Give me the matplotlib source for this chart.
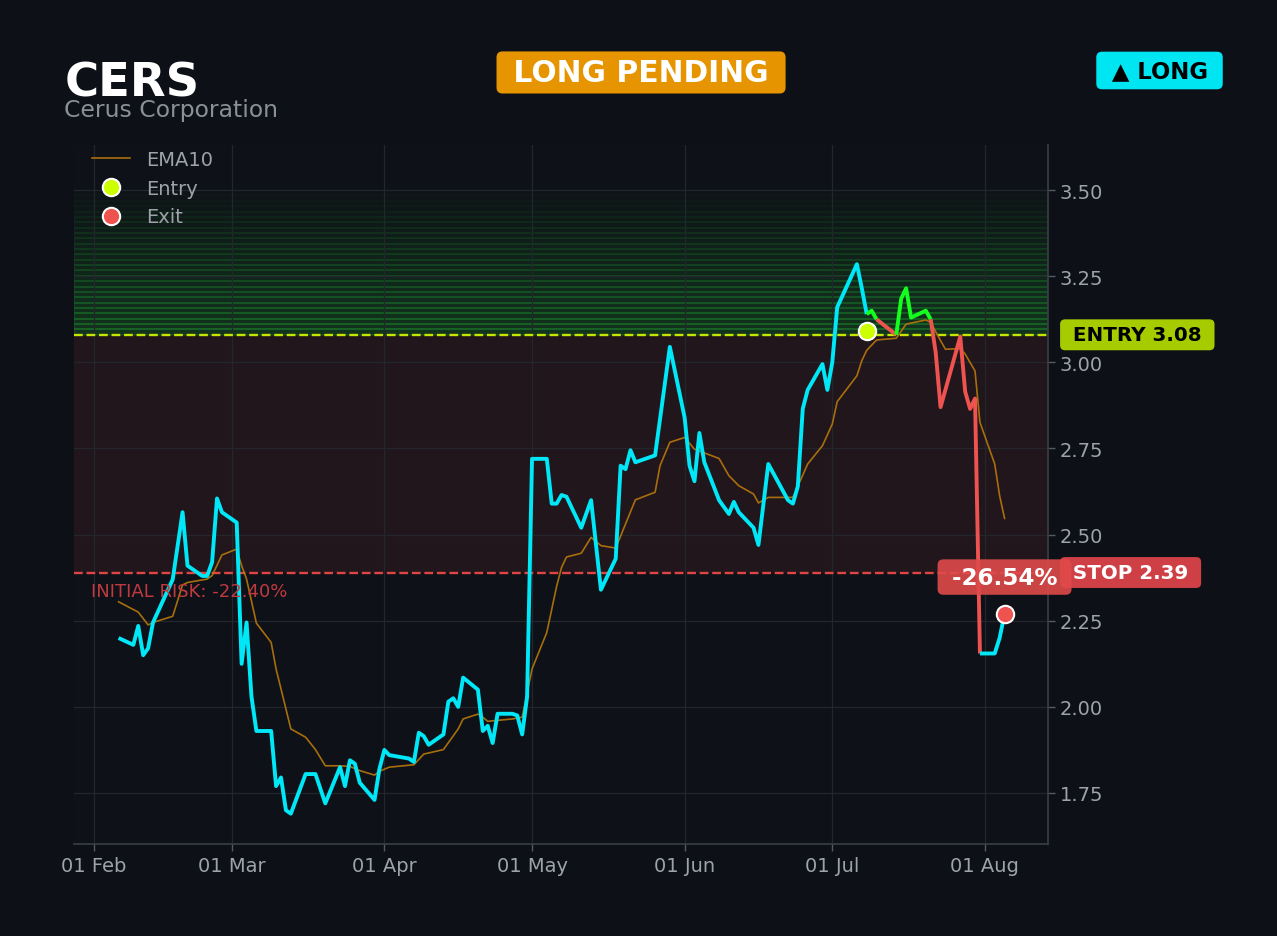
import matplotlib
matplotlib.use('Agg')
import matplotlib.pyplot as plt
import matplotlib.dates as mdates
import matplotlib.transforms as mtransforms
import numpy as np
import pandas as pd

# header / trade info
ticker = 'CERS'
company = 'Cerus Corporation'
status = 'LONG PENDING'
side = '\u25B2 LONG'

entry_price = 3.08
stop_price = 2.39
target_top = 3.50
initial_risk = '-22.40%'
trade_return = '-26.54%'

entry_date = '2026-07-08'
entry_fill = 3.09
exit_date = '2026-08-05'
exit_fill = 2.27

# close prices
price_dates = [
    '2026-02-06', '2026-02-09', '2026-02-10', '2026-02-11', '2026-02-12', '2026-02-13',
    '2026-02-17', '2026-02-19', '2026-02-20', '2026-02-23', '2026-02-24', '2026-02-25',
    '2026-02-26', '2026-02-27', '2026-03-02', '2026-03-03', '2026-03-04', '2026-03-05',
    '2026-03-06', '2026-03-09', '2026-03-10', '2026-03-11', '2026-03-12', '2026-03-13',
    '2026-03-16', '2026-03-18', '2026-03-20', '2026-03-23', '2026-03-24', '2026-03-25',
    '2026-03-26', '2026-03-27', '2026-03-30', '2026-03-31', '2026-04-01', '2026-04-02',
    '2026-04-06', '2026-04-07', '2026-04-08', '2026-04-09', '2026-04-10', '2026-04-13',
    '2026-04-14', '2026-04-15', '2026-04-16', '2026-04-17', '2026-04-20', '2026-04-21',
    '2026-04-22', '2026-04-23', '2026-04-24', '2026-04-27', '2026-04-28', '2026-04-29',
    '2026-04-30', '2026-05-01', '2026-05-04', '2026-05-05', '2026-05-06', '2026-05-07',
    '2026-05-08', '2026-05-11', '2026-05-13', '2026-05-15', '2026-05-18', '2026-05-19',
    '2026-05-20', '2026-05-21', '2026-05-22', '2026-05-26', '2026-05-29', '2026-06-01',
    '2026-06-02', '2026-06-03', '2026-06-04', '2026-06-05', '2026-06-08', '2026-06-10',
    '2026-06-11', '2026-06-12', '2026-06-15', '2026-06-16', '2026-06-18', '2026-06-22',
    '2026-06-23', '2026-06-24', '2026-06-25', '2026-06-26', '2026-06-29', '2026-06-30',
    '2026-07-01', '2026-07-02', '2026-07-06', '2026-07-07', '2026-07-08', '2026-07-09',
    '2026-07-10', '2026-07-14', '2026-07-15', '2026-07-16', '2026-07-17', '2026-07-20',
    '2026-07-21', '2026-07-22', '2026-07-23', '2026-07-27', '2026-07-28', '2026-07-29',
    '2026-07-30', '2026-07-31', '2026-08-03', '2026-08-04', '2026-08-05',
]
price_close = [
    2.20, 2.18, 2.235, 2.15, 2.17, 2.245,
    2.37, 2.565, 2.41, 2.38, 2.38, 2.42,
    2.605, 2.565, 2.535, 2.125, 2.245, 2.03,
    1.93, 1.93, 1.77, 1.795, 1.70, 1.69,
    1.805, 1.805, 1.72, 1.825, 1.77, 1.845,
    1.835, 1.78, 1.73, 1.82, 1.875, 1.86,
    1.85, 1.84, 1.925, 1.915, 1.89, 1.92,
    2.015, 2.025, 2.00, 2.085, 2.05, 1.93,
    1.945, 1.895, 1.98, 1.98, 1.975, 1.92,
    2.03, 2.72, 2.72, 2.59, 2.59, 2.615,
    2.61, 2.52, 2.60, 2.34, 2.43, 2.70,
    2.69, 2.745, 2.71, 2.73, 3.045, 2.84,
    2.70, 2.655, 2.795, 2.71, 2.60, 2.56,
    2.595, 2.565, 2.52, 2.47, 2.705, 2.60,
    2.59, 2.64, 2.865, 2.92, 2.995, 2.92,
    3.00, 3.16, 3.285, 3.215, 3.14, 3.15,
    3.125, 3.08, 3.185, 3.215, 3.13, 3.15,
    3.125, 3.03, 2.87, 3.075, 2.915, 2.865,
    2.895, 2.155, 2.155, 2.20, 2.27,
]

ema_dates = [
    '2026-02-06', '2026-02-10', '2026-02-12', '2026-02-13', '2026-02-17', '2026-02-19',
    '2026-02-20', '2026-02-24', '2026-02-25', '2026-02-27', '2026-03-02', '2026-03-03',
    '2026-03-04', '2026-03-06', '2026-03-09', '2026-03-10', '2026-03-13', '2026-03-16',
    '2026-03-18', '2026-03-20', '2026-03-23', '2026-03-25', '2026-03-27', '2026-03-30',
    '2026-03-31', '2026-04-02', '2026-04-07', '2026-04-09', '2026-04-13', '2026-04-16',
    '2026-04-17', '2026-04-20', '2026-04-21', '2026-04-22', '2026-04-27', '2026-04-29',
    '2026-05-01', '2026-05-04', '2026-05-06', '2026-05-07', '2026-05-08', '2026-05-11',
    '2026-05-13', '2026-05-15', '2026-05-18', '2026-05-22', '2026-05-26', '2026-05-27',
    '2026-05-29', '2026-06-01', '2026-06-03', '2026-06-08', '2026-06-10', '2026-06-12',
    '2026-06-15', '2026-06-16', '2026-06-18', '2026-06-23', '2026-06-26', '2026-06-29',
    '2026-07-01', '2026-07-02', '2026-07-06', '2026-07-07', '2026-07-08', '2026-07-10',
    '2026-07-14', '2026-07-16', '2026-07-20', '2026-07-21', '2026-07-23', '2026-07-24',
    '2026-07-27', '2026-07-28', '2026-07-30', '2026-07-31', '2026-08-03', '2026-08-04',
    '2026-08-05',
]
ema_values = [
    2.305, 2.275, 2.238, 2.245, 2.263, 2.354,
    2.361, 2.371, 2.381, 2.441, 2.458, 2.41,
    2.371, 2.243, 2.187, 2.11, 1.936, 1.912,
    1.876, 1.829, 1.829, 1.827, 1.815, 1.802,
    1.813, 1.825, 1.832, 1.863, 1.876, 1.936,
    1.965, 1.979, 1.970, 1.958, 1.965, 1.970,
    2.11, 2.216, 2.35, 2.405, 2.435, 2.446,
    2.492, 2.468, 2.461, 2.601, 2.623, 2.70,
    2.768, 2.782, 2.748, 2.721, 2.671, 2.642,
    2.618, 2.592, 2.608, 2.608, 2.705, 2.758,
    2.821, 2.886, 2.961, 3.005, 3.035, 3.065,
    3.07, 3.111, 3.123, 3.116, 3.063, 3.038,
    3.04, 3.024, 2.975, 2.826, 2.705, 2.613,
    2.547,
]

# colour of the close line, piece by piece
phases = [
    ('2026-02-06', '2026-07-08', 'watch'),
    ('2026-07-08', '2026-07-10', 'up'),
    ('2026-07-10', '2026-07-14', 'down'),
    ('2026-07-14', '2026-07-21', 'up'),
    ('2026-07-21', '2026-07-31', 'down'),
    ('2026-07-31', '2026-08-05', 'watch'),
]
phase_colors = {'watch': '#00e8f8', 'up': '#14ff1e', 'down': '#ef5350'}

bg = '#0d1117'
grid_c = '#23262c'
txt_c = '#9ea2a9'
ema_c = '#b8780c'


def main():
    fig = plt.figure(figsize=(12.77, 9.37), dpi=100, facecolor=bg)
    ax = fig.add_axes([0.058, 0.0982, 0.7627, 0.746])
    ax.set_facecolor('#0e1117')

    # zones: red risk band and green gradient above the entry
    ax.axhspan(stop_price, entry_price, color='#e5534b', alpha=0.088, lw=0, zorder=0.8)
    n_bands = 27
    edges = np.linspace(entry_price, target_top, n_bands + 1)
    for i in range(n_bands):
        a = 0.17 * (1 - i / n_bands) + 0.004
        ax.axhspan(edges[i], edges[i + 1], color='#26d83c', alpha=a, lw=1.3, zorder=0.8)

    ax.axhline(entry_price, color='#c6e600', lw=1.7, ls='--', zorder=3)
    ax.axhline(stop_price, color='#e04545', lw=1.7, ls='--', zorder=3)

    s = pd.Series(price_close, index=pd.to_datetime(price_dates))
    for start, end, phase in phases:
        seg = s[start:end]
        ax.plot(seg.index, seg.values, color=phase_colors[phase], lw=2.8, zorder=4,
                solid_capstyle='butt')

    ax.plot(pd.to_datetime(ema_dates), ema_values, color=ema_c, lw=1.2, alpha=0.9,
            zorder=3.5, label='EMA10')

    ax.plot([pd.Timestamp(entry_date)], [entry_fill], ls='none', marker='o', ms=12.5,
            mfc='#ccff00', mec='white', mew=1.5, zorder=6, label='Entry')
    ax.plot([pd.Timestamp(exit_date)], [exit_fill], ls='none', marker='o', ms=12.5,
            mfc='#ef5350', mec='white', mew=1.5, zorder=6, label='Exit')

    # axes look
    ax.set_xlim(pd.Timestamp('2026-01-28') - pd.Timedelta(hours=1), pd.Timestamp('2026-08-13 20:00'))
    ax.set_ylim(1.602, 3.631)
    ax.yaxis.tick_right()
    ax.set_yticks([1.75, 2.00, 2.25, 2.50, 2.75, 3.00, 3.25, 3.50])
    ax.yaxis.set_major_formatter(plt.FuncFormatter(lambda v, p: f'{v:.2f}'))
    ax.xaxis.set_major_locator(mdates.MonthLocator())
    ax.xaxis.set_major_formatter(mdates.DateFormatter('%d %b'))
    ax.tick_params(colors='#555a62', labelcolor=txt_c, labelsize=14, length=5, width=1)
    ax.grid(True, color=grid_c, lw=0.9)
    for side_name in ['top', 'left']:
        ax.spines[side_name].set_visible(False)
    for side_name in ['bottom', 'right']:
        ax.spines[side_name].set_color('#3a3e46')
        ax.spines[side_name].set_linewidth(1.2)

    leg = ax.legend(loc='upper left', bbox_to_anchor=(0, 1.018), frameon=False, fontsize=14)
    for t in leg.get_texts():
        t.set_color(txt_c)

    # price labels outside the right edge
    lbl = mtransforms.blended_transform_factory(ax.transAxes, ax.transData)
    ax.text(1.0185, entry_price, f' ENTRY {entry_price:.2f} ', transform=lbl, ha='left', va='center',
            fontsize=14.3, fontweight='bold', color='black', clip_on=False, zorder=8,
            bbox=dict(boxstyle='round,pad=0.3,rounding_size=0.25', fc='#a6cc00', ec='none'))
    ax.text(1.0185, stop_price, f' STOP {stop_price:.2f} ', transform=lbl, ha='left', va='center',
            fontsize=14.3, fontweight='bold', color='white', clip_on=False, zorder=8,
            bbox=dict(boxstyle='round,pad=0.3,rounding_size=0.25', fc='#cf3f46', ec='none'))
    ax.annotate(f' {trade_return} ', xy=(pd.Timestamp(exit_date), exit_fill), xytext=(0, 26.5),
                textcoords='offset points', ha='center', va='center', fontsize=16.6,
                fontweight='bold', color='white', annotation_clip=False, zorder=9,
                bbox=dict(boxstyle='round,pad=0.27,rounding_size=0.25', fc='#e04a4a', ec='none', alpha=0.9))
    ax.annotate(f'INITIAL RISK: {initial_risk}', xy=(0.0175, stop_price), xycoords=lbl,
                xytext=(0, -6.5), textcoords='offset points', ha='left', va='top',
                fontsize=13, color='#bf3a40', zorder=7)

    # header
    fig.text(0.0505, 0.8975, ticker, fontsize=33.5, fontweight='bold', color='white', va='baseline')
    fig.text(0.0505, 0.8755, company, fontsize=16.9, color='#8b8f97', va='baseline')
    fig.text(0.502, 0.9216, f' {status} ', fontsize=21.4, fontweight='bold', color='white',
             ha='center', va='center',
             bbox=dict(boxstyle='round,pad=0.22,rounding_size=0.2', fc='#e69500', ec='none'))
    fig.text(0.908, 0.9237, f' {side} ', fontsize=16.4, fontweight='bold', color='black',
             ha='center', va='center',
             bbox=dict(boxstyle='round,pad=0.32,rounding_size=0.25', fc='#00e5f2', ec='none'))

    fig.savefig('out.png', dpi=100, facecolor=bg)


if __name__ == '__main__':
    main()
